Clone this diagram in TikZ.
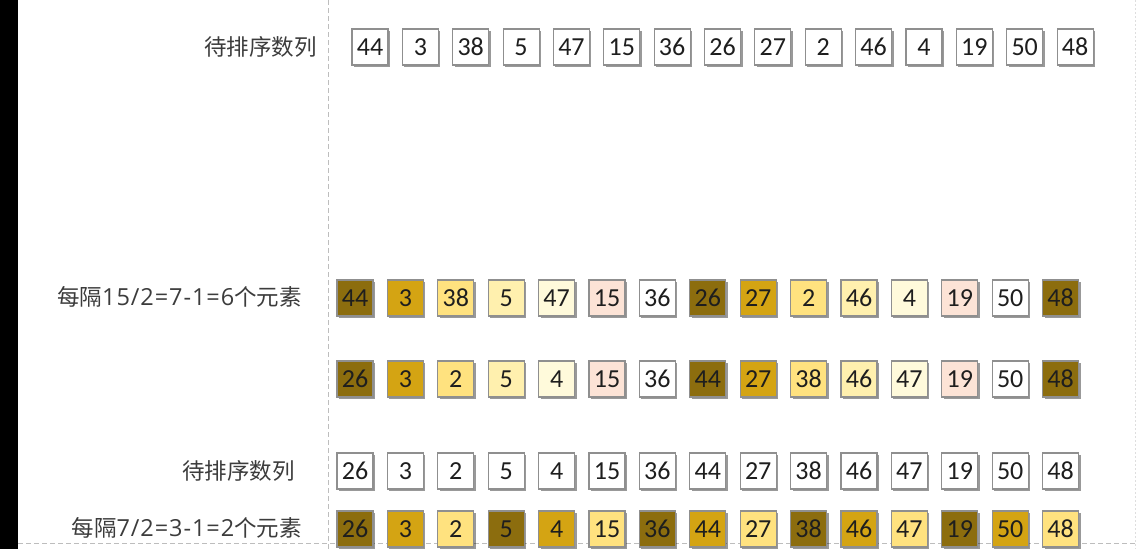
\documentclass[tikz,border=0pt]{standalone}
\usepackage{fontspec}
\setmainfont{Carlito}
\newfontfamily\cjk{Noto Sans CJK SC}
\newfontfamily\lat[LetterSpace=4]{Open Sans}
\usetikzlibrary{shadows}
\definecolor{c0}{HTML}{8C6D0E}
\definecolor{c1}{HTML}{D4A413}
\definecolor{c2}{HTML}{FFE27F}
\definecolor{c3}{HTML}{FFF0AE}
\definecolor{c4}{HTML}{FFFADB}
\definecolor{c5}{HTML}{FCE3D6}
\definecolor{c6}{HTML}{FFFFFF}
\definecolor{boxgray}{HTML}{8F8F8F}
\definecolor{numtext}{HTML}{1E1E1E}
\definecolor{labeltext}{HTML}{3C3C3C}
\definecolor{guide}{HTML}{BDBDBD}
\newcommand{\dg}[1]{{\lat\fontsize{23.5}{23.5}\selectfont #1}}
\tikzset{
  cell/.style={draw=boxgray, line width=1.1pt, minimum size=36pt, inner sep=0pt,
    font=\fontsize{26}{26}\selectfont, text=numtext,
    drop shadow={shadow xshift=2pt, shadow yshift=-2pt, opacity=0.4, fill=black}},
  lbl/.style={anchor=east, inner sep=0pt, font=\cjk\fontsize{22.5}{22.5}\selectfont, text=labeltext},
  guideline/.style={draw=guide, line width=0.8pt, dash pattern=on 5pt off 3pt}
}
\begin{document}
\begin{tikzpicture}[x=1pt,y=-1pt]
\useasboundingbox (0,0) rectangle (1142,549);
\fill[white] (0,0) rectangle (1142,549);
\fill[black] (0,0) rectangle (18,549);
\coordinate (vt) at (328,0);
\coordinate (vb) at (328,549);
\draw[guideline] (vt) -- (vb);
\coordinate (hl) at (18,543);
\coordinate (hr) at (1135,543);
\draw[guideline] (hl) -- (hr);
\coordinate (rt) at (1135,0);
\coordinate (rb) at (1135,549);
\draw[draw=guide!50, line width=0.6pt, dash pattern=on 2pt off 2pt] (rt) -- (rb);

% row 1
\node[lbl] (l1) at (317,47) {待排序数列};
\foreach \v [count=\i from 0] in {44,3,38,5,47,15,36,26,27,2,46,4,19,50,48}
  \node[cell, fill=white] (a\i) at ({370+\i*50.36},47) {\v};

% row 2
\node[lbl] (l2) at (302,297) {每隔\dg{15/2=7-1=6}个元素};
\foreach \v [count=\i from 0] in {44,3,38,5,47,15,36,26,27,2,46,4,19,50,48}{
  \pgfmathtruncatemacro\k{mod(\i,7)}
  \node[cell, fill=c\k] (b\i) at ({355+\i*50.4},298) {\v};
}
% row 3
\foreach \v [count=\i from 0] in {26,3,2,5,4,15,36,44,27,38,46,47,19,50,48}{
  \pgfmathtruncatemacro\k{mod(\i,7)}
  \node[cell, fill=c\k] (c\i) at ({355+\i*50.4},379) {\v};
}
% row 4
\node[lbl] (l4) at (295,471) {待排序数列};
\foreach \v [count=\i from 0] in {26,3,2,5,4,15,36,44,27,38,46,47,19,50,48}
  \node[cell, fill=white] (d\i) at ({355+\i*50.4},471) {\v};
% row 5
\node[lbl] (l5) at (302,528) {每隔\dg{7/2=3-1=2}个元素};
\foreach \v [count=\i from 0] in {26,3,2,5,4,15,36,44,27,38,46,47,19,50,48}{
  \pgfmathtruncatemacro\k{mod(\i,3)}
  \node[cell, fill=c\k] (e\i) at ({355+\i*50.4},529) {\v};
}
\end{tikzpicture}
\end{document}
